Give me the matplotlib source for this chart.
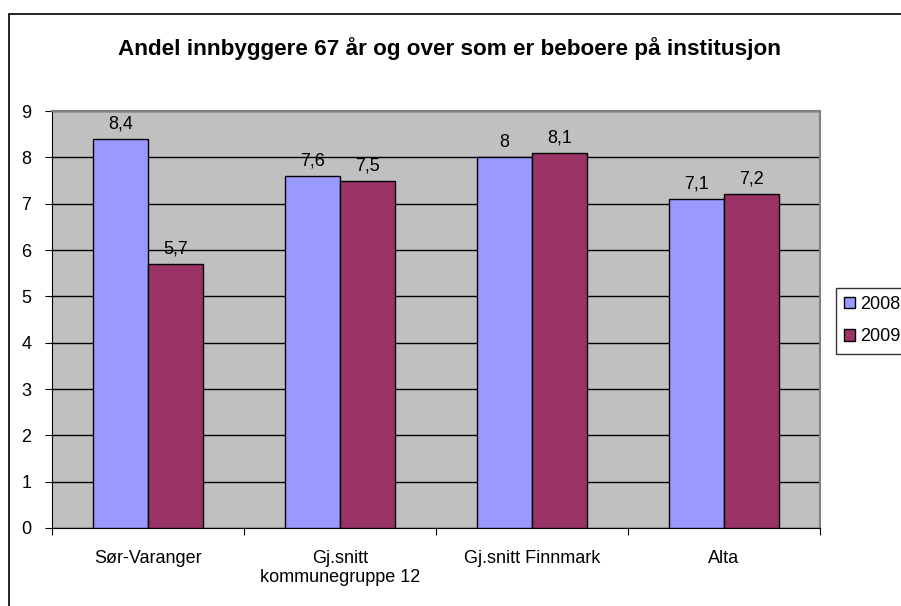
import matplotlib.pyplot as plt
import numpy as np
from matplotlib.patches import Rectangle

plt.rcParams['font.family'] = ['Liberation Sans', 'DejaVu Sans']

categories = ['Sør-Varanger', 'Gj.snitt\nkommunegruppe 12', 'Gj.snitt Finnmark', 'Alta']
v2008 = [8.4, 7.6, 8.0, 7.1]
v2009 = [5.7, 7.5, 8.1, 7.2]
labels2008 = ['8,4', '7,6', '8', '7,1']
labels2009 = ['5,7', '7,5', '8,1', '7,2']
series_names = ['2008', '2009']

fig = plt.figure(figsize=(9.01, 6.06), dpi=100)
# outer chart border (right and bottom run off the image)
fig.patches.append(Rectangle((9 / 901, -0.05), 1.0, 1 - 14 / 606 + 0.05,
                             transform=fig.transFigure, fill=False,
                             edgecolor='black', linewidth=1.2))

ax = fig.add_axes([52 / 901, 78 / 606, 768 / 901, 417 / 606])
ax.set_facecolor('#C0C0C0')

x = np.arange(len(categories))
w = 0.286
b1 = ax.bar(x - w / 2, v2008, w, color='#9999FF', edgecolor='black', linewidth=1, label=series_names[0], zorder=3)
b2 = ax.bar(x + w / 2, v2009, w, color='#993366', edgecolor='black', linewidth=1, label=series_names[1], zorder=3)

for rect, lab in zip(b1, labels2008):
    ax.text(rect.get_x() + rect.get_width() / 2, rect.get_height() + 0.14, lab,
            ha='center', va='bottom', fontsize=13)
for rect, lab in zip(b2, labels2009):
    ax.text(rect.get_x() + rect.get_width() / 2, rect.get_height() + 0.14, lab,
            ha='center', va='bottom', fontsize=13)

ax.set_xlim(-0.5, len(categories) - 0.5)
ax.set_ylim(0, 9)
ax.set_yticks(range(0, 10))
ax.yaxis.grid(True, color='black', linewidth=1, zorder=1)
ax.set_axisbelow(True)

ax.set_xticks(np.arange(-0.5, len(categories), 1.0))
ax.set_xticklabels([])
ax.set_xticks(x, minor=True)
ax.set_xticklabels(categories, minor=True, fontsize=13, linespacing=1.1)
ax.tick_params(axis='x', which='minor', length=0, pad=16)
ax.tick_params(axis='x', which='major', length=5, direction='out')
ax.tick_params(axis='y', length=5, direction='out', labelsize=13, pad=10)

for s in ['left', 'bottom']:
    ax.spines[s].set_color('black')
for s in ['top', 'right']:
    ax.spines[s].set_color('#808080')
    ax.spines[s].set_linewidth(1.5)

fig.text(449 / 901, 1 - 49 / 606, 'Andel innbyggere 67 år og over som er beboere på institusjon',
         ha='center', va='center', fontsize=16.2, fontweight='bold')

leg = fig.legend(loc='upper left', bbox_to_anchor=(836 / 901, 1 - 288 / 606),
                 fontsize=13, frameon=True, fancybox=False, handlelength=0.6,
                 handleheight=0.6, handletextpad=0.3, borderpad=0.45,
                 labelspacing=0.85, borderaxespad=0)
leg.get_frame().set_edgecolor('black')
leg.get_frame().set_linewidth(1)

fig.savefig('out.png', dpi=100)
